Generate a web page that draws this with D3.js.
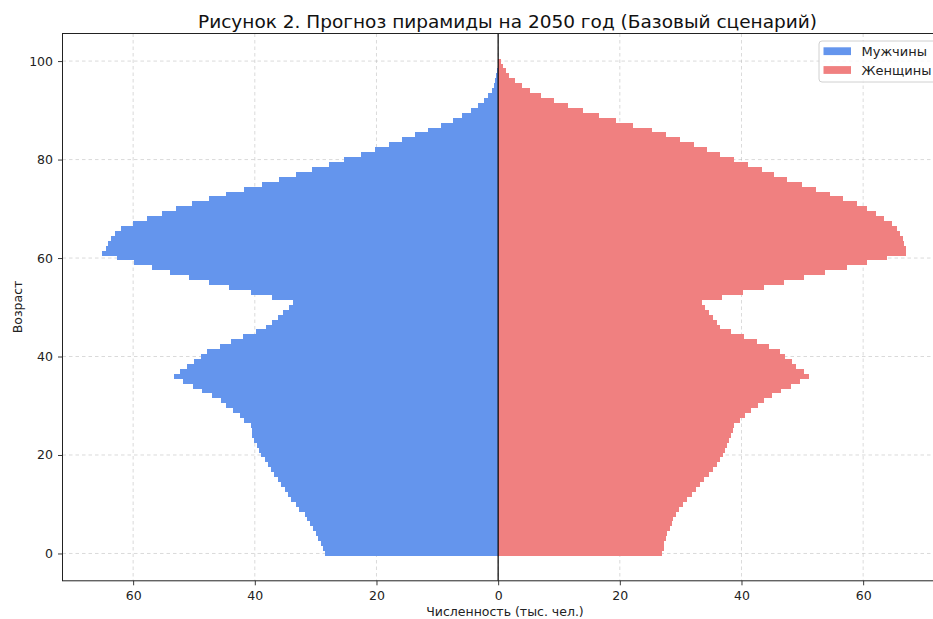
<!DOCTYPE html>
<html>
<head>
<meta charset="utf-8">
<script src="https://cdn.jsdelivr.net/npm/d3@7"></script>
<style>
  body { margin: 0; background: #fff; }
  svg { display: block; font-family: "DejaVu Sans", sans-serif; }
</style>
</head>
<body>
<svg id="chart"></svg>
<script>
// ages 0..100, thousands of people
const ages = d3.range(0, 101);

const males = [
  28.5, 28.8, 29.2, 29.6, 30.0, 30.5, 31.0, 31.5, 31.8, 32.7,
  33.3, 34.0, 34.6, 35.1, 35.7, 36.2, 36.8, 37.3, 37.9, 38.4,
  38.9, 39.3, 39.7, 40.1, 40.4, 40.5, 40.6, 41.7, 42.5, 43.6,
  44.7, 45.6, 47.0, 48.6, 50.2, 51.8, 53.3, 52.3, 51.1, 50.0,
  48.9, 47.8, 45.8, 43.9, 42.0, 39.8, 38.2, 37.1, 36.2, 35.3,
  34.4, 33.7, 37.2, 40.6, 44.2, 47.5, 50.8, 54.0, 56.9, 59.9,
  62.6, 65.1, 64.5, 64.1, 63.7, 63.0, 62.0, 60.0, 57.7, 55.3,
  53.0, 50.3, 47.5, 44.7, 41.7, 38.8, 36.0, 33.2, 30.6, 27.8,
  25.3, 22.6, 20.3, 18.0, 15.8, 13.6, 11.5, 9.4, 7.5, 5.9,
  4.4, 3.3, 2.4, 1.6, 1.0, 0.7, 0.45, 0.3, 0.2, 0.1, 0.05
];

const females = [
  27.0, 27.2, 27.3, 27.6, 27.8, 28.3, 28.6, 28.8, 29.3, 29.8,
  30.4, 31.1, 31.9, 32.6, 33.2, 33.9, 34.6, 35.3, 36.0, 36.5,
  36.9, 37.3, 37.6, 38.0, 38.3, 38.6, 38.7, 39.7, 40.6, 41.6,
  42.7, 43.7, 45.0, 46.5, 48.1, 49.6, 51.1, 50.2, 49.0, 48.3,
  47.2, 46.4, 44.5, 42.5, 40.4, 38.3, 36.5, 36.0, 35.3, 34.6,
  34.0, 33.5, 36.8, 40.2, 43.7, 47.0, 50.2, 53.8, 57.3, 60.6,
  63.9, 67.0, 67.0, 66.7, 66.5, 66.1, 65.6, 64.8, 63.5, 62.1,
  60.6, 59.0, 56.7, 54.5, 52.2, 50.0, 47.4, 45.4, 43.4, 41.0,
  38.7, 36.4, 34.3, 32.2, 29.9, 27.6, 25.3, 22.2, 19.4, 16.5,
  13.9, 11.5, 9.1, 7.1, 5.3, 3.9, 2.7, 1.8, 1.3, 0.8, 0.5
];

const xTicks = [-60, -40, -20, 0, 20, 40, 60];
const yTicks = [0, 20, 40, 60, 80, 100];
const seriesNames = ["Мужчины", "Женщины"];
const colors = ["#6495ED", "#F08080"];

const width = 933, height = 619;
const plotLeft = 62.5, plotRight = 946.5, plotTop = 33.5, plotBottom = 580.8;

const svg = d3.select("#chart").attr("width", width).attr("height", height);

const x = d3.scaleLinear()
  .domain([-d3.max(males) * 1.1, d3.max(females) * 1.1])
  .range([plotLeft, plotRight]);
const y = d3.scaleLinear().domain([-5.55, 105.6]).range([plotBottom, plotTop]);

svg.append("defs").append("clipPath").attr("id", "plot")
  .append("rect").attr("x", plotLeft).attr("y", plotTop)
  .attr("width", plotRight - plotLeft).attr("height", plotBottom - plotTop);

// grid
const grid = svg.append("g").attr("stroke", "#b0b0b0")
  .attr("stroke-opacity", 0.6).attr("stroke-width", 0.8)
  .attr("stroke-dasharray", "3.5,3");
grid.selectAll(".gx").data(xTicks).enter().append("line")
  .attr("x1", d => x(d)).attr("x2", d => x(d))
  .attr("y1", plotTop).attr("y2", plotBottom);
grid.selectAll(".gy").data(yTicks).enter().append("line")
  .attr("x1", plotLeft).attr("x2", plotRight)
  .attr("y1", d => y(d)).attr("y2", d => y(d));

// bars
const bars = svg.append("g").attr("clip-path", "url(#plot)")
  .attr("shape-rendering", "crispEdges");
bars.selectAll(".m").data(ages).enter().append("rect")
  .attr("x", a => x(-males[a]))
  .attr("width", a => x(0) - x(-males[a]))
  .attr("y", a => y(a + 0.5))
  .attr("height", a => y(a - 0.5) - y(a + 0.5))
  .attr("fill", colors[0]);
bars.selectAll(".f").data(ages).enter().append("rect")
  .attr("x", x(0))
  .attr("width", a => x(females[a]) - x(0))
  .attr("y", a => y(a + 0.5))
  .attr("height", a => y(a - 0.5) - y(a + 0.5))
  .attr("fill", colors[1]);

// zero line
svg.append("line")
  .attr("x1", x(0)).attr("x2", x(0))
  .attr("y1", plotTop).attr("y2", plotBottom)
  .attr("stroke", "#000").attr("stroke-width", 1.2);

// axes
const xAxis = svg.append("g").attr("transform", `translate(0,${plotBottom})`)
  .call(d3.axisBottom(x).tickValues(xTicks).tickFormat(d => Math.abs(d))
    .tickSize(4.5).tickPadding(5.5));
const yAxis = svg.append("g").attr("transform", `translate(${plotLeft},0)`)
  .call(d3.axisLeft(y).tickValues(yTicks).tickSize(4.5).tickPadding(5));
[xAxis, yAxis].forEach(g => {
  g.select(".domain").remove();
  g.selectAll("line").attr("stroke", "#222").attr("stroke-width", 0.9);
  g.selectAll("text").attr("font-size", "12.5px").attr("fill", "#222")
    .attr("font-family", "DejaVu Sans");
});

// frame
svg.append("rect").attr("x", plotLeft).attr("y", plotTop)
  .attr("width", plotRight - plotLeft).attr("height", plotBottom - plotTop)
  .attr("fill", "none").attr("stroke", "#222").attr("stroke-width", 1);

// labels
svg.append("text").attr("x", 507.5).attr("y", 27.5)
  .attr("text-anchor", "middle").attr("font-size", "18.5px").attr("fill", "#111")
  .text("Рисунок 2. Прогноз пирамиды на 2050 год (Базовый сценарий)");
svg.append("text").attr("x", 505).attr("y", 616)
  .attr("text-anchor", "middle").attr("font-size", "12.5px").attr("fill", "#222")
  .text("Численность (тыс. чел.)");
svg.append("text").attr("transform", "translate(21.5,307) rotate(-90)")
  .attr("text-anchor", "middle").attr("font-size", "12.5px").attr("fill", "#222")
  .text("Возраст");

// legend
const legend = svg.append("g");
legend.append("rect").attr("x", 819).attr("y", 41)
  .attr("width", 128).attr("height", 41).attr("rx", 3)
  .attr("fill", "#fff").attr("fill-opacity", 0.8)
  .attr("stroke", "#d0d0d0").attr("stroke-width", 1);
seriesNames.forEach((name, i) => {
  legend.append("rect").attr("x", 823.5).attr("y", 47.3 + i * 18.8)
    .attr("width", 27.5).attr("height", 7.8).attr("fill", colors[i]);
  legend.append("text").attr("x", 861.5).attr("y", 56.3 + i * 18.8)
    .attr("font-size", "13px").attr("fill", "#222").text(name);
});
</script>
</body>
</html>
